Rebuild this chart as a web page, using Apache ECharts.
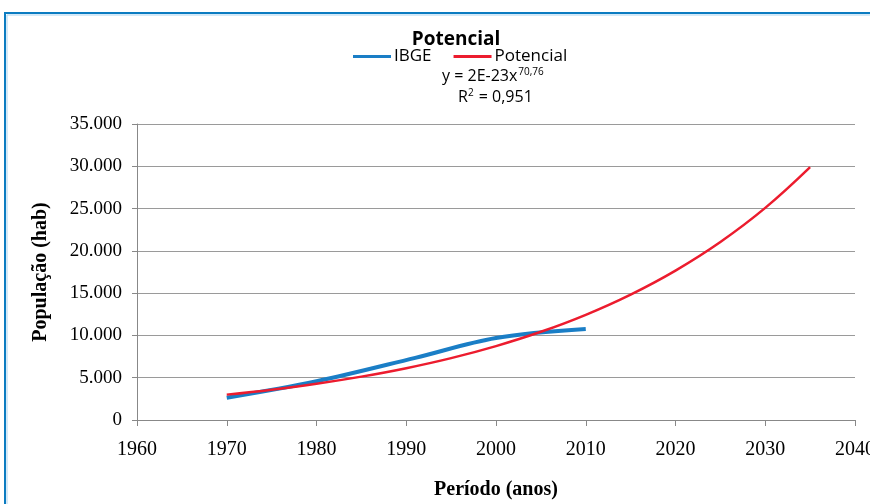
<!DOCTYPE html>
<html>
<head>
<meta charset="utf-8">
<script src="https://cdn.jsdelivr.net/npm/echarts@6/dist/echarts.min.js"></script>
<style>
html,body{margin:0;padding:0;background:#fff;}
#c{width:870px;height:504px;}
</style>
</head>
<body>
<div id="c"></div>
<script>
var ibgeYears = [1970, 1980, 1991, 2000, 2010];
var ibgeValues = [2640, 4580, 7350, 9700, 10760];
var trendYears = [1970, 1975, 1980, 1985, 1990, 1995, 2000, 2005, 2010, 2015, 2020, 2025, 2030, 2035];
var trendValues = [3000, 3590, 4290, 5130, 6130, 7320, 8740, 10430, 12440, 14830, 17670, 21050, 25080, 29900];
var yTicks = [0, 5000, 10000, 15000, 20000, 25000, 30000, 35000];
var titleText = 'Potencial';
var equationText = 'y = 2E-23x{sup|70,76}';
var r2Text = 'R{sup|2} = 0,951';

function pairs(xs, ys) { return xs.map(function (x, i) { return [x, ys[i]]; }); }
function fmt(v) { return String(v).replace(/\B(?=(\d{3})+(?!\d))/g, '.'); }

var SANS = 'Open Sans';
var SERIF = 'Liberation Serif';

var chart = echarts.init(document.getElementById('c'));
chart.setOption({
  animation: false,
  backgroundColor: '#fff',
  title: {
    text: titleText,
    left: 451, top: 25, textAlign: 'center',
    textStyle: { fontFamily: SANS, fontSize: 19, fontWeight: 'bold', color: '#000' }
  },
  legend: {
    left: 348, top: 43,
    itemWidth: 38, itemHeight: 3, itemGap: 22,
    icon: 'rect',
    textStyle: { fontFamily: SANS, fontSize: 17, color: '#000', padding: [0, 0, 0, -2] },
    data: ['IBGE', 'Potencial']
  },
  graphic: [
    { type: 'rect', shape: { x: 5, y: 13, width: 900, height: 520 }, style: { fill: 'none', stroke: '#0b7cc1', lineWidth: 2 }, silent: true },
    { type: 'rect', shape: { x: 7, y: 15, width: 900, height: 520 }, style: { fill: 'none', stroke: '#a9d3f0', lineWidth: 1 }, silent: true },
    { type: 'text', left: 442, top: 67, style: { text: equationText, fontFamily: SANS, fontSize: 16, fill: '#000',
      rich: { sup: { fontSize: 10, verticalAlign: 'top', padding: [0, 0, 8, 1], fontFamily: SANS, fill: '#000' } } } },
    { type: 'text', left: 458, top: 88, style: { text: r2Text, fontFamily: SANS, fontSize: 16, fill: '#000',
      rich: { sup: { fontSize: 10, verticalAlign: 'top', padding: [0, 1, 8, 0], fontFamily: SANS, fill: '#000' } } } }
  ],
  grid: { left: 137, right: 15, top: 124, bottom: 84, containLabel: false, outerBoundsMode: 'none' },
  xAxis: {
    type: 'value', min: 1960, max: 2040, interval: 10,
    name: 'Período (anos)', nameLocation: 'middle', nameGap: 60,
    nameTextStyle: { fontFamily: SERIF, fontSize: 20, fontWeight: 'bold', color: '#000' },
    axisLine: { lineStyle: { color: '#888', width: 1 } },
    axisTick: { show: true, length: 6, inside: false, lineStyle: { color: '#888' } },
    axisLabel: { fontFamily: SERIF, fontSize: 20, color: '#000', margin: 20, showMaxLabel: true,
      formatter: function (v) { return String(v); } },
    splitLine: { show: false }
  },
  yAxis: {
    type: 'value', min: 0, max: 35000, interval: 5000,
    name: 'População (hab)', nameLocation: 'middle', nameGap: 86, nameRotate: 90,
    nameTextStyle: { fontFamily: SERIF, fontSize: 20, fontWeight: 'bold', color: '#000' },
    axisLine: { show: true, lineStyle: { color: '#888', width: 1 } },
    axisTick: { show: true, length: 5, lineStyle: { color: '#888' } },
    axisLabel: { fontFamily: SERIF, fontSize: 19, color: '#000', margin: 15,
      formatter: function (v) { return fmt(v); } },
    splitLine: { show: true, lineStyle: { color: '#9a9a9a', width: 1 } }
  },
  series: [
    { name: 'IBGE', type: 'line', data: pairs(ibgeYears, ibgeValues), smooth: 0.35, symbol: 'none',
      lineStyle: { color: '#1a7ec6', width: 4 }, itemStyle: { color: '#1a7ec6' }, z: 2 },
    { name: 'Potencial', type: 'line', data: pairs(trendYears, trendValues), smooth: 0.4, symbol: 'none',
      lineStyle: { color: '#ec1c2e', width: 2.5 }, itemStyle: { color: '#ec1c2e' }, z: 3 }
  ]
});
</script>
</body>
</html>
